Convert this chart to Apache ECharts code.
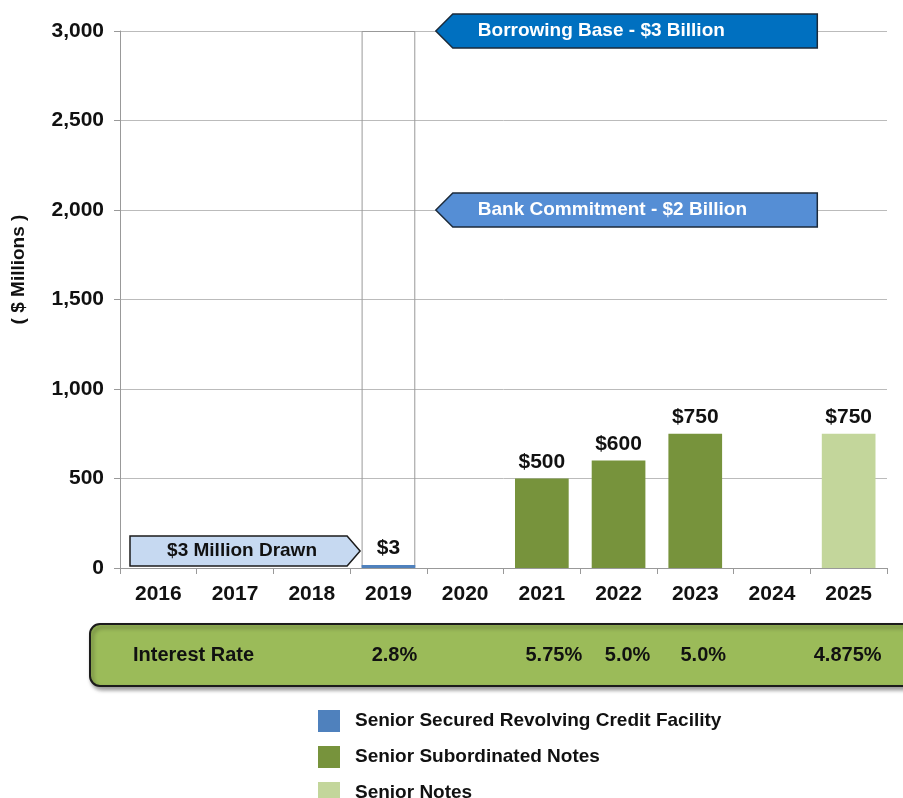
<!DOCTYPE html>
<html>
<head>
<meta charset="utf-8">
<script src="https://cdn.jsdelivr.net/npm/echarts@6/dist/echarts.min.js"></script>
<style>
  html, body { margin: 0; padding: 0; background: #fff; }
  #chart { width: 903px; height: 798px; }
</style>
</head>
<body>
<div id="chart"></div>
<script>
const years = ['2016', '2017', '2018', '2019', '2020', '2021', '2022', '2023', '2024', '2025']
const revolver = [null, null, null, 3, null, null, null, null, null, null]
const subNotes = [null, null, null, null, null, 500, 600, 750, null, null]
const seniorNotes = [null, null, null, null, null, null, null, null, null, 750]
const borrowingBase = [null, null, null, 3000, null, null, null, null, null, null]
const rateYears = ['2019', '2021', '2022', '2023', '2025']
const rates = ['2.8%', '5.75%', '5.0%', '5.0%', '4.875%']

const font = 'Liberation Sans, Arial, sans-serif'
const chart = echarts.init(document.getElementById('chart'))

const barLabel = {
  show: true,
  position: 'top',
  distance: 6,
  formatter: (p) => '$' + p.value,
  color: '#111',
  fontSize: 21,
  fontWeight: 'bold',
  fontFamily: font,
}

const option = {
  animation: false,
  grid: { left: 120, right: 16, top: 31, bottom: 230 },
  legend: {
    orient: 'vertical',
    left: 313,
    top: 705,
    height: 200,
    itemWidth: 22,
    itemHeight: 22,
    itemGap: 14,
    icon: 'rect',
    data: ['Senior Secured Revolving Credit Facility', 'Senior Subordinated Notes', 'Senior Notes'],
    textStyle: { color: '#111', fontSize: 19, fontWeight: 'bold', fontFamily: font, padding: [0, 0, 0, 10] },
  },
  xAxis: {
    type: 'category',
    data: years,
    axisLine: { lineStyle: { color: '#999' } },
    axisTick: { show: true, length: 6, lineStyle: { color: '#999' } },
    axisLabel: { color: '#111', fontSize: 21, fontWeight: 'bold', fontFamily: font, margin: 16 },
  },
  yAxis: {
    type: 'value',
    min: 0,
    max: 3000,
    interval: 500,
    name: '( $ Millions )',
    nameLocation: 'middle',
    nameGap: 92,
    nameRotate: 90,
    nameTextStyle: { color: '#111', fontSize: 19, fontWeight: 'bold', fontFamily: font, padding: [0, 0, 0, 60] },
    axisLine: { show: true, lineStyle: { color: '#999' } },
    axisTick: { show: true, length: 6, lineStyle: { color: '#999' } },
    splitLine: { lineStyle: { color: '#bbb' } },
    axisLabel: {
      color: '#111', fontSize: 21, fontWeight: 'bold', fontFamily: font, margin: 16,
      formatter: (v) => v.toLocaleString('en-US'),
    },
  },
  series: [
    {
      name: 'Senior Secured Revolving Credit Facility',
      type: 'bar',
      stack: 'debt',
      data: revolver,
      barWidth: '70%',
      barMinHeight: 3,
      itemStyle: { color: '#4F81BD' },
      label: barLabel,
    },
    {
      name: 'Senior Subordinated Notes',
      type: 'bar',
      stack: 'debt',
      data: subNotes,
      itemStyle: { color: '#77933C' },
      label: barLabel,
    },
    {
      name: 'Senior Notes',
      type: 'bar',
      stack: 'debt',
      data: seniorNotes,
      itemStyle: { color: '#C3D69B' },
      label: barLabel,
    },
    {
      name: 'Borrowing Base',
      type: 'bar',
      data: borrowingBase,
      barWidth: '70%',
      barGap: '-100%',
      z: 1,
      itemStyle: { color: 'rgba(0,0,0,0)', borderColor: '#999', borderWidth: 1 },
    },
  ],
}

chart.setOption(option)

// annotations placed from the axes
const px = (cat, val) => chart.convertToPixel({ gridIndex: 0 }, [cat, val])
const step = px('2017', 0)[0] - px('2016', 0)[0]
const edge = (i) => px(years[0], 0)[0] - step / 2 + step * i

function leftArrow(val, fill, text) {
  const y = px('2016', val)[1]
  const x0 = edge(4) + 9, x1 = edge(9) + 7, h = 17
  return [
    {
      type: 'polygon',
      shape: { points: [[x0, y], [x0 + 17, y - h], [x1, y - h], [x1, y + h], [x0 + 17, y + h]] },
      style: { fill: fill, stroke: '#1b2a3a', lineWidth: 1.5 },
      z: 10,
    },
    {
      type: 'text',
      x: x0 + 42,
      y: y,
      style: { text: text, fill: '#fff', font: 'bold 19px ' + font, align: 'left', verticalAlign: 'middle' },
      z: 11,
    },
  ]
}

const base = px('2016', 0)[1]
const dx0 = edge(0) + 10, dx1 = edge(3) + 10, dy = base - 17
const drawn = [
  {
    type: 'polygon',
    shape: { points: [[dx0, dy - 15], [dx1 - 13, dy - 15], [dx1, dy], [dx1 - 13, dy + 15], [dx0, dy + 15]] },
    style: { fill: '#C6D9F1', stroke: '#1b1b1b', lineWidth: 1.5 },
    z: 10,
  },
  {
    type: 'text',
    x: (dx0 + dx1) / 2 - 3,
    y: dy,
    style: { text: '$3 Million Drawn', fill: '#111', font: 'bold 19px ' + font, align: 'center', verticalAlign: 'middle' },
    z: 11,
  },
]

const rateBox = [
  {
    type: 'rect',
    shape: { x: 90, y: 624, width: 830, height: 62, r: 10 },
    style: { fill: '#9BBB59', stroke: '#1b1b1b', lineWidth: 2, shadowBlur: 4, shadowOffsetX: 2, shadowOffsetY: 3, shadowColor: 'rgba(0,0,0,0.4)' },
    z: 5,
  },
  {
    type: 'text',
    x: 133,
    y: 655,
    style: { text: 'Interest Rate', fill: '#111', font: 'bold 20px ' + font, verticalAlign: 'middle' },
    z: 6,
  },
].concat(rateYears.map((yr, i) => ({
  type: 'text',
  x: px(yr, 0)[0] + [6, 12, 9, 8, -1][i],
  y: 655,
  style: { text: rates[i], fill: '#111', font: 'bold 20px ' + font, align: 'center', verticalAlign: 'middle' },
  z: 6,
})))

chart.setOption({
  graphic: leftArrow(3000, '#0070C0', 'Borrowing Base - $3 Billion')
    .concat(leftArrow(2000, '#558ED5', 'Bank Commitment - $2 Billion'))
    .concat(drawn)
    .concat(rateBox),
})

window.addEventListener('resize', () => chart.resize())
</script>
</body>
</html>
